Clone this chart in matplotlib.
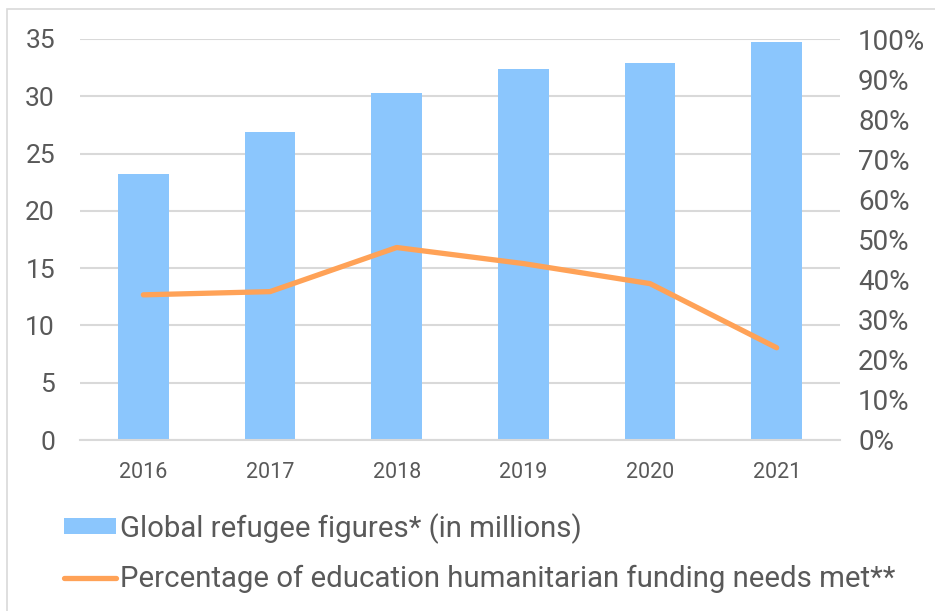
import numpy as np
import matplotlib.pyplot as plt
from matplotlib.patches import Rectangle, Patch
from matplotlib.lines import Line2D
from matplotlib.ticker import FuncFormatter

plt.rcParams['font.family'] = ['Roboto', 'DejaVu Sans']

# Data
years = ['2016', '2017', '2018', '2019', '2020', '2021']
refugees = [23.2, 26.9, 30.3, 32.4, 32.9, 34.7]          # millions
funding_met = [36.2, 37.0, 48.0, 44.0, 39.0, 23.0]      # percent

bar_color = '#8BC6FD'
line_color = '#FFA257'
text_color = '#595959'
grid_color = '#D9D9D9'

fig = plt.figure(figsize=(9.35, 6.11), dpi=100)

# light border around the chart area
fig.patches.append(Rectangle((7/935, -0.1), 1.2, (611 - 9)/611 + 0.1,
                             transform=fig.transFigure, fill=False,
                             edgecolor='#D9D9D9', linewidth=1.2))

ax = fig.add_axes([80/935, 1 - 440/611, 760/935, 401/611])
x = np.arange(len(years))
ax.bar(x, refugees, width=0.4, color=bar_color, zorder=2)
ax.set_xlim(-0.5, len(years) - 0.5)
ax.set_ylim(0, 35)
ax.set_yticks(np.arange(0, 36, 5))
ax.set_xticks(x)
ax.set_xticklabels(years)
ax.yaxis.grid(True, color=grid_color, linewidth=1.5, zorder=0)
ax.set_axisbelow(True)
for s in ax.spines.values():
    s.set_visible(False)
ax.spines['bottom'].set_visible(True)
ax.spines['bottom'].set_color(grid_color)
ax.spines['bottom'].set_linewidth(1.5)
ax.tick_params(axis='y', length=0, pad=18, labelsize=19, labelcolor=text_color)
ax.tick_params(axis='x', length=0, pad=16, labelsize=15.5, labelcolor=text_color)

ax2 = ax.twinx()
ax2.plot(x, funding_met, color=line_color, linewidth=3.8,
         solid_capstyle='round', solid_joinstyle='round', zorder=3)
ax2.set_ylim(0, 100)
ax2.set_yticks(np.arange(0, 101, 10))
ax2.yaxis.set_major_formatter(FuncFormatter(lambda v, p: f'{v:.0f}%'))
for s in ax2.spines.values():
    s.set_visible(False)
ax2.tick_params(axis='y', length=0, pad=13, labelsize=20, labelcolor=text_color)

handles = [Patch(facecolor=bar_color, edgecolor='none'),
           Line2D([0], [0], color=line_color, linewidth=3.8, solid_capstyle='round')]
labels = ['Global refugee figures* (in millions)',
          'Percentage of education humanitarian funding needs met**']
leg = fig.legend(handles, labels, loc='upper left',
                 bbox_to_anchor=(64/935, 1 - 513/611), frameon=False,
                 fontsize=21.2, handlelength=1.75, handleheight=0.45,
                 handletextpad=0.15, labelspacing=0.72, borderaxespad=0,
                 borderpad=0)
for t in leg.get_texts():
    t.set_color(text_color)

fig.savefig('out.png', dpi=100)
